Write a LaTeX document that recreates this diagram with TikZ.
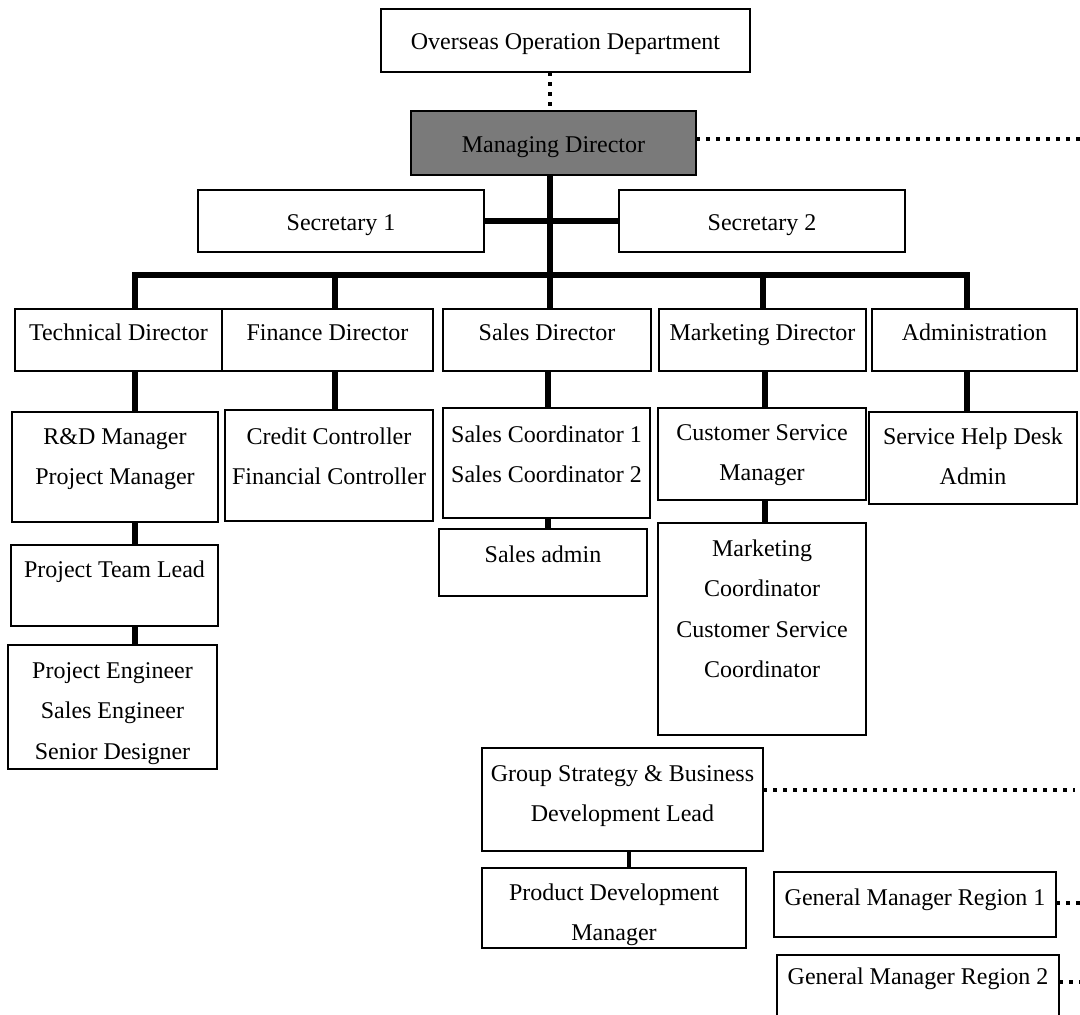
\documentclass[tikz,border=0pt]{standalone}
\usepackage{fontspec}
\setmainfont{Liberation Serif}
\newcommand{\txl}[1]{\begin{tabular}[t]{@{}c@{}}#1\end{tabular}}
\tikzset{
  obox/.style n args={3}{draw=black, line width=1.3pt, rectangle, inner sep=0pt, outer sep=0pt,
    minimum width=#1, text height=#2, text depth=#3, anchor=north west,
    font=\fontsize{24pt}{40.5pt}\selectfont},
  conn/.style={line width=5.5pt},
  thinconn/.style={line width=4pt},
  dotc/.style={line width=3.5pt, dash pattern=on 3.5pt off 6.5pt},
  mdfill/.style={fill=black!52}
}
\begin{document}
\begin{tikzpicture}[x=1pt,y=-1pt]
\fill[white] (0,0) rectangle (1080,1015);
\useasboundingbox (0,0) rectangle (1080,1015);

% boxes
\node[obox={369pt}{40pt}{23pt}] (ood) at (381,9) {Overseas Operation Department};
\node[obox={285pt}{41pt}{23pt}, mdfill] (md) at (411,111) {Managing Director};
\node[obox={286pt}{40pt}{22pt}] (sec1) at (198,190) {Secretary 1};
\node[obox={286pt}{40pt}{22pt}] (sec2) at (619,190) {Secretary 2};

\node[obox={207pt}{31pt}{31pt}] (tech) at (15,309) {Technical Director};
\node[obox={211pt}{31pt}{31pt}] (fin) at (222,309) {Finance Director};
\node[obox={208pt}{31pt}{31pt}] (sales) at (443,309) {Sales Director};
\node[obox={207pt}{31pt}{31pt}] (mkt) at (659,309) {Marketing Director};
\node[obox={205pt}{31pt}{31pt}] (admin) at (872,309) {Administration};

\node[obox={206pt}{32pt}{78pt}] (rd) at (12,412) {\txl{R\&D Manager\\Project Manager}};
\node[obox={208pt}{34pt}{77pt}] (cc) at (225,410) {\txl{Credit Controller\\Financial Controller}};
\node[obox={207pt}{34pt}{76pt}] (sc) at (443,408) {\txl{Sales Coordinator 1\\Sales Coordinator 2}};
\node[obox={208pt}{32pt}{60pt}] (csm) at (658,408) {\txl{Customer Service\\Manager}};
\node[obox={208pt}{32pt}{60pt}] (shd) at (869,412) {\txl{Service Help Desk\\Admin}};

\node[obox={207pt}{32pt}{49pt}] (ptl) at (11,545) {Project Team Lead};
\node[obox={209pt}{33pt}{91pt}] (pe) at (8,645) {\txl{Project Engineer\\Sales Engineer\\Senior Designer}};
\node[obox={208pt}{33pt}{34pt}] (sa) at (439,529) {Sales admin};
\node[obox={208pt}{33pt}{179pt}] (mc) at (658,523) {\txl{Marketing\\Coordinator\\Customer Service\\Coordinator}};

\node[obox={281pt}{33pt}{70pt}] (gs) at (482,748) {\txl{Group Strategy \& Business\\Development Lead}};
\node[obox={264pt}{32pt}{48pt}] (pdm) at (482,868) {\txl{Product Development\\Manager}};
\node[obox={282pt}{33pt}{32pt}] (gm1) at (774,872) {General Manager Region 1};
\node[obox={282pt}{29pt}{36pt}] (gm2) at (777,955) {General Manager Region 2};

% column coordinates
\coordinate (trunk) at (550,275);
\coordinate (colT) at (135,275);
\coordinate (colF) at (335,275);
\coordinate (colM) at (763,275);
\coordinate (colA) at (967,275);
\coordinate (colS) at (548,0);
\coordinate (colM2) at (765,0);
\coordinate (colG) at (629,0);

% solid connectors
\draw[conn] (md.south -| trunk) -- (sales.north -| trunk);
\draw[conn] (sec1.east) -- (sec1.east -| trunk);
\draw[conn] (sec2.west -| trunk) -- (sec2.west);
\draw[conn] (colT |- tech.north) -- (colT) -- (colA) -- (colA |- admin.north);
\draw[conn] (colF) -- (colF |- fin.north);
\draw[conn] (colM) -- (colM |- mkt.north);

\draw[conn] (tech.south -| colT) -- (rd.north -| colT);
\draw[conn] (rd.south -| colT) -- (ptl.north -| colT);
\draw[conn] (ptl.south -| colT) -- (pe.north -| colT);
\draw[conn] (fin.south -| colF) -- (cc.north -| colF);
\draw[conn] (sales.south -| colS) -- (sc.north -| colS);
\draw[conn] (sc.south -| colS) -- (sa.north -| colS);
\draw[conn] (mkt.south -| colM2) -- (csm.north -| colM2);
\draw[conn] (csm.south -| colM2) -- (mc.north -| colM2);
\draw[conn] (admin.south -| colA) -- (shd.north -| colA);
\draw[thinconn] (gs.south -| colG) -- (pdm.north -| colG);

% dotted connectors
\coordinate (mdR) at (1080,139);
\coordinate (gsR) at (1075,790);
\coordinate (gm1R) at (1080,903);
\coordinate (gm2R) at (1080,982);
\draw[dotc] (ood.south -| trunk) -- (md.north -| trunk);
\draw[dotc] (md.east |- mdR) -- (mdR);
\draw[dotc] (gs.east |- gsR) -- (gsR);
\draw[dotc] (gm1.east |- gm1R) -- (gm1R);
\draw[dotc] (gm2.east |- gm2R) -- (gm2R);
\end{tikzpicture}
\end{document}
